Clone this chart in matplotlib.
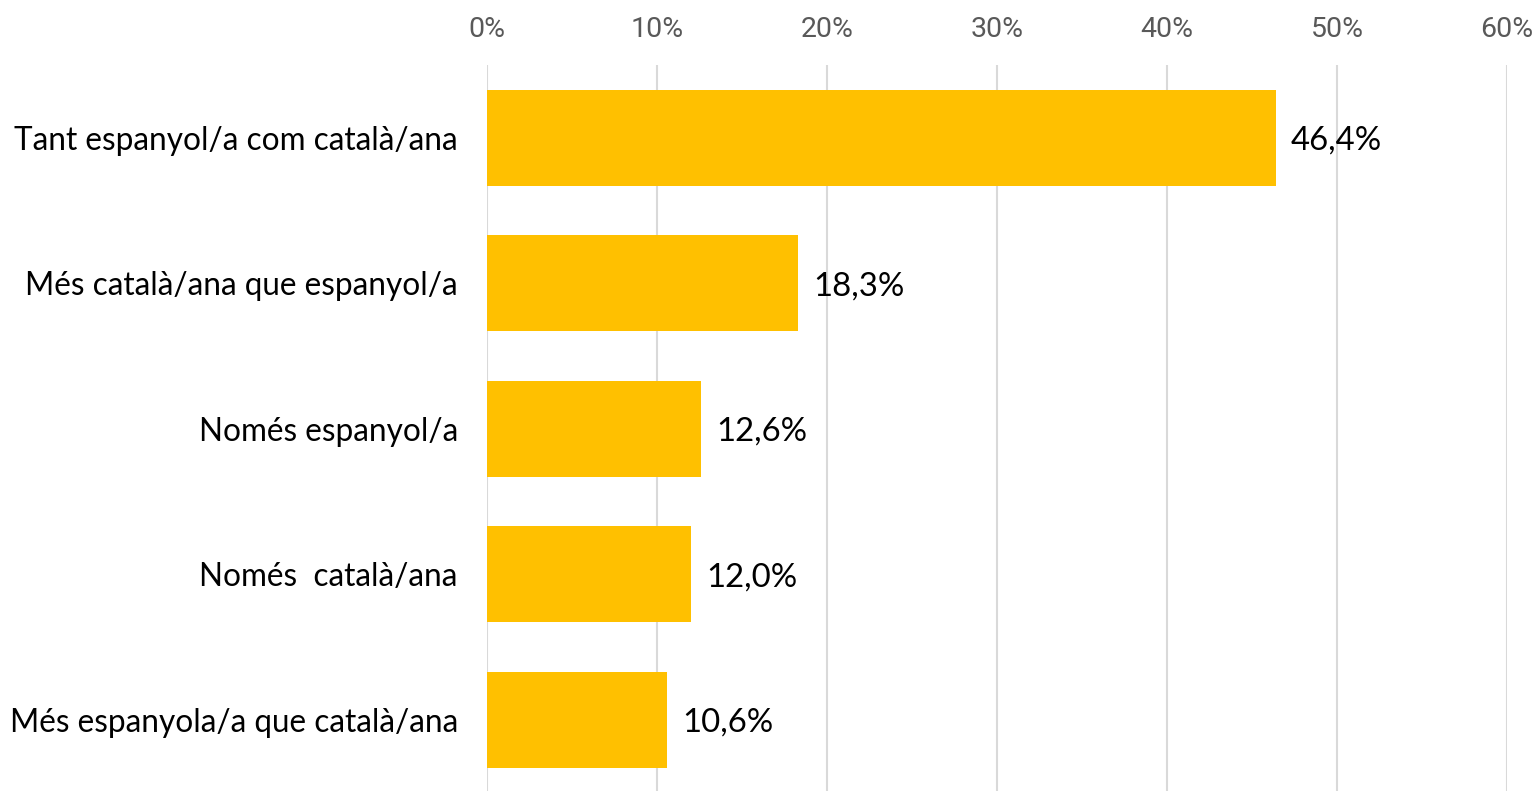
import matplotlib
matplotlib.use("Agg")
import matplotlib.pyplot as plt
from matplotlib.ticker import FuncFormatter

categories = [
    "Tant espanyol/a com català/ana",
    "Més català/ana que espanyol/a",
    "Només espanyol/a",
    "Només  català/ana",
    "Més espanyola/a que català/ana",
]
values = [46.4, 18.3, 12.6, 12.0, 10.6]
xticks = [0, 10, 20, 30, 40, 50, 60]

bar_color = "#FFC000"
grid_color = "#D9D9D9"

fig = plt.figure(figsize=(15.39, 7.91), dpi=100)
ax = fig.add_axes([487 / 1539, 0.0, 1020 / 1539, 1 - 65 / 791])

y = list(range(len(categories)))
ax.barh(y, values, height=0.66, color=bar_color, zorder=2)

ax.set_xlim(0, 60)
ax.set_ylim(len(categories) - 0.51, -0.5)
ax.set_xticks(xticks)
ax.xaxis.set_major_formatter(FuncFormatter(lambda v, p: f"{v:.0f}%"))
ax.xaxis.tick_top()
ax.tick_params(axis="x", length=0, pad=16, labelsize=20.5, labelcolor="#595959")
for lbl in ax.get_xticklabels():
    lbl.set_fontfamily("Roboto")

ax.set_yticks(y)
ax.set_yticklabels(categories, fontsize=22.7, fontfamily="Lato", color="#000000")
ax.tick_params(axis="y", length=0, pad=21)

ax.grid(axis="x", color=grid_color, linewidth=1.5, zorder=0)
for s in ax.spines.values():
    s.set_visible(False)

for yi, v in zip(y, values):
    ax.text(v + 0.9, yi + 0.02, f"{v:.1f}%".replace(".", ","), va="center", ha="left",
            fontsize=23.7, fontfamily="Lato", color="#000000")

fig.savefig("out.png", dpi=100)
